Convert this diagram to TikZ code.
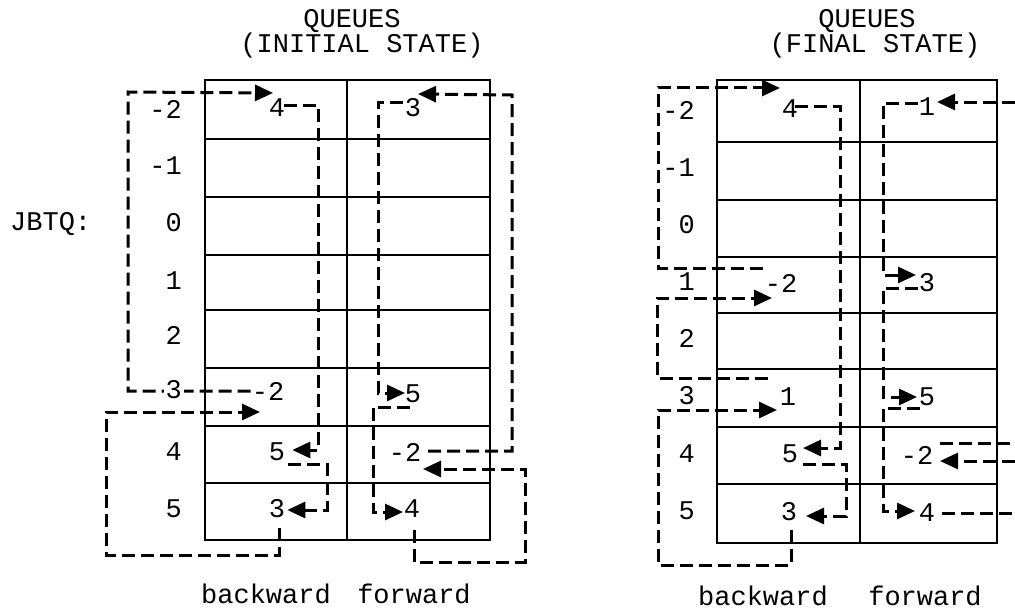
\documentclass[tikz,border=0pt]{standalone}
\usepackage{fontspec}
\setmainfont{Liberation Mono}
\usetikzlibrary{arrows.meta}
\pgfdeclarelayer{paper}
\pgfdeclarelayer{background}
\pgfsetlayers{paper,background,main}
\begin{document}
\begin{tikzpicture}[x=1pt,y=-1pt,
  every node/.style={font=\fontsize{27}{30}\selectfont, inner sep=1pt},
  title/.style={anchor=base, inner sep=0pt},
  rowlab/.style={anchor=east, fill=white, inner sep=2pt},
  entry/.style={},
  grid/.style={line width=2.6pt},
  link/.style={line width=3pt, dash pattern=on 13pt off 6pt},
  arr/.style={link, -{Triangle[length=18pt,width=16pt]}}]
\begin{pgfonlayer}{paper}
\fill[white] (0,0) rectangle (1015,610);
\end{pgfonlayer}
\useasboundingbox (0,0) rectangle (1015,610);

% ---------- titles ----------
\node[title] (LT1) at (352,28) {QUEUES};
\node[title] (LT2) at (362,53) {(INITIAL STATE)};
\node[title] (RT1) at (867,28) {QUEUES};
\node[title] (RT2) at (875,53) {(FINAL STATE)};
\node[title] (LB1) at (266,603) {backward};
\node[title] (LB2) at (414,603) {forward};
\node[title] (RB1) at (763,605) {backward};
\node[title] (RB2) at (925,605) {forward};
\node[anchor=base west, inner sep=0pt] (JBTQ) at (10,230) {JBTQ:};

% ---------- left table ----------
\draw[grid] (205,80) rectangle (490,540);
\draw[grid] (347,80) -- (347,540);
\foreach \y in {139,197,255,310,368,426,483} \draw[grid] (205,\y) -- (490,\y);

% ---------- right table ----------
\draw[grid] (717,80) rectangle (997,543);
\draw[grid] (860,80) -- (860,543);
\foreach \y in {142,200,257,313,369,427,484} \draw[grid] (717,\y) -- (997,\y);

% ---------- left row labels ----------
\node[rowlab] (Llm2) at (184,109) {-2};
\node[rowlab] (Llm1) at (184,166) {-1};
\node[rowlab] (Ll0) at (184,223) {0};
\node[rowlab] (Ll1) at (184,281) {1};
\node[rowlab] (Ll2) at (184,335) {2};
\node[rowlab] (Ll3) at (184,390) {3};
\node[rowlab] (Ll4) at (184,452) {4};
\node[rowlab] (Ll5) at (184,509) {5};

% ---------- right row labels ----------
\node[rowlab] (Rlm2) at (697,110) {-2};
\node[rowlab] (Rlm1) at (697,168) {-1};
\node[rowlab] (Rl0) at (697,225) {0};
\node[rowlab] (Rl1) at (697,282) {1};
\node[rowlab] (Rl2) at (697,338) {2};
\node[rowlab] (Rl3) at (697,396) {3};
\node[rowlab] (Rl4) at (697,454) {4};
\node[rowlab] (Rl5) at (697,511) {5};

% ---------- left entries ----------
\node[entry] (Lbm2) at (277,108) {4};
\node[entry] (Lb3) at (268,391) {-2};
\node[entry] (Lb4) at (277,452) {5};
\node[entry] (Lb5) at (277,509) {3};
\node[entry] (Lfm2) at (413,108) {3};
\node[entry] (Lf3) at (413,394) {5};
\node[entry] (Lf4) at (405,452) {-2};
\node[entry] (Lf5) at (412,509) {4};

% ---------- right entries ----------
\node[entry] (Rbm2) at (790,109) {4};
\node[entry] (Rb1) at (781,283) {-2};
\node[entry] (Rb3) at (788,397) {1};
\node[entry] (Rb4) at (790,454) {5};
\node[entry] (Rb5) at (789,512) {3};
\node[entry] (Rfm2) at (927,107) {1};
\node[entry] (Rf1) at (927,283) {3};
\node[entry] (Rf3) at (927,397) {5};
\node[entry] (Rf4) at (917,455) {-2};
\node[entry] (Rf5) at (927,513) {4};

\coordinate (Ri) at (1015,513);
\coordinate (Rj1) at (1015,443);
\coordinate (Rj2) at (1015,461);
\coordinate (Rk) at (1015,102);

\begin{pgfonlayer}{background}
% left backward links
\draw[arr] (Lb3.west) -| (128,92) -- ([shift={(-4,-15)}]Lbm2.center);
\draw[arr] ([shift={(-2,-3)}]Lbm2.east) -| (318,450) -- ([shift={(6,-2)}]Lb4.east);
\draw[arr] ([shift={(2,12)}]Lb4.east) -| (327,510) -- ([shift={(1,1)}]Lb5.east);
\draw[arr] ([shift={(2,9)}]Lb5.south) |- (106,555) |- ([shift={(-8,21)}]Lb3.center);
% left forward links
\draw[arr] ([shift={(-10,-6)}]Lfm2.center) -| (378,393) -- ([shift={(-8,-1)}]Lf3.center);
\draw[arr] ([shift={(-3,13)}]Lf3.center) -| (373,512) -- ([shift={(-9,3)}]Lf5.center);
\draw[arr] ([shift={(2,21)}]Lf5.center) |- (525,562) |- ([shift={(18,17)}]Lf4.center);
\draw[arr] ([shift={(23,-1)}]Lf4.center) -| (512,95) -- ([shift={(5,-14)}]Lfm2.center);
% right backward links
\draw[arr] ([shift={(-18,-15)}]Rb1.center) -| (658,88) -- ([shift={(-10,-21)}]Rbm2.center);
\draw[arr] ([shift={(-20,-19)}]Rb3.center) -| (657,298) -- ([shift={(-9,15)}]Rb1.center);
\draw[arr] ([shift={(2,18)}]Rb5.center) |- (658,565) |- ([shift={(-11,13)}]Rb3.center);
\draw[arr] ([shift={(5,-3)}]Rbm2.center) -| (840,448) -- ([shift={(13,-6)}]Rb4.center);
\draw[arr] ([shift={(13,10)}]Rb4.center) -| (846,516) -- ([shift={(17,4)}]Rb5.center);
% right forward links
\draw[arr] ([shift={(-9,-4)}]Rfm2.center) -| (883,275) -- ([shift={(-11,-8)}]Rf1.center);
\draw[arr] ([shift={(-9,5)}]Rf1.center) -| (883,397) -- ([shift={(-10,0)}]Rf3.center);
\draw[arr] ([shift={(-7,11)}]Rf3.center) -| (883,511) -- ([shift={(-12,-2)}]Rf5.center);
\draw[link] ([shift={(15,0)}]Rf5.center) -- (Ri);
\draw[link] ([shift={(23,-12)}]Rf4.center) -- (Rj1);
\draw[arr] (Rj2) -- ([shift={(23,6)}]Rf4.center);
\draw[arr] (Rk) -- ([shift={(10,-5)}]Rfm2.center);
\end{pgfonlayer}
\end{tikzpicture}
\end{document}
